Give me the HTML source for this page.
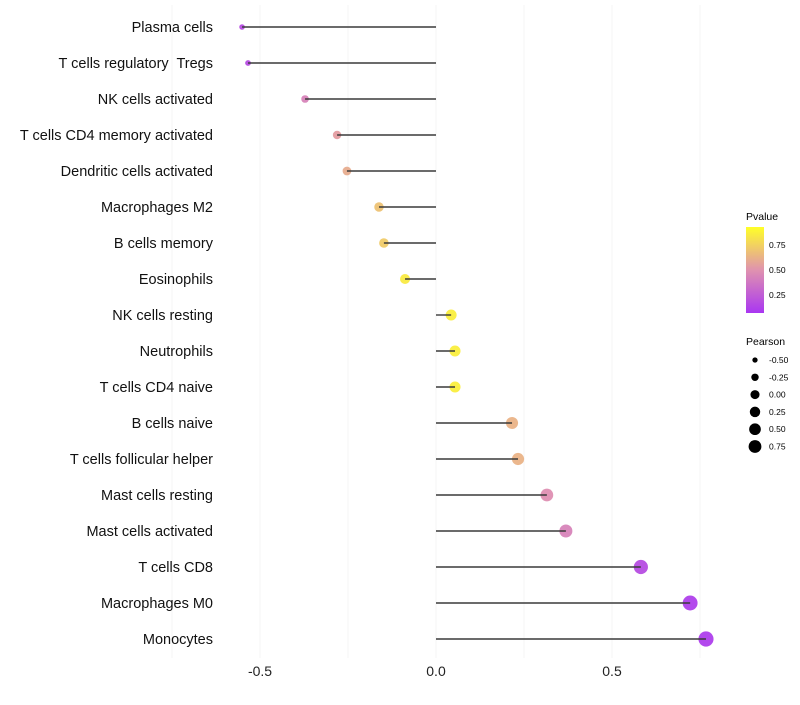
<!DOCTYPE html>
<html><head><meta charset="utf-8"><style>
body{margin:0;background:#fff;font-family:"Liberation Sans",sans-serif;}
svg text{font-family:"Liberation Sans",sans-serif;white-space:pre;}
</style></head><body>
<svg id="chart" width="800" height="700" xmlns="http://www.w3.org/2000/svg">
<defs><linearGradient id="pg" x1="0" y1="1" x2="0" y2="0">
<stop offset="0" stop-color="#a020f0"/><stop offset="0.5" stop-color="#dc86a6"/><stop offset="1" stop-color="#ffff10"/></linearGradient></defs>
<g id="grid"></g><g id="points"></g><g id="stems"></g><g id="labels"></g><g id="xticks"></g>
<g>
<text x="746" y="220" font-size="10.5">Pvalue</text>
<rect x="746" y="227" width="18" height="86" fill="url(#pg)" opacity="0.9"/>
<text x="769" y="248" font-size="8.5">0.75</text>
<text x="769" y="273" font-size="8.5">0.50</text>
<text x="769" y="298" font-size="8.5">0.25</text>
</g>
<g id="sizeLegend">
<text x="746" y="345" font-size="10.5">Pearson</text>
</g>
</svg>
<script>
const cells=["Plasma cells","T cells regulatory  Tregs","NK cells activated","T cells CD4 memory activated","Dendritic cells activated","Macrophages M2","B cells memory","Eosinophils","NK cells resting","Neutrophils","T cells CD4 naive","B cells naive","T cells follicular helper","Mast cells resting","Mast cells activated","T cells CD8","Macrophages M0","Monocytes"];
const pearson=[-0.551,-0.534,-0.372,-0.281,-0.253,-0.162,-0.148,-0.088,0.043,0.054,0.054,0.216,0.233,0.315,0.369,0.582,0.722,0.767];
const pvalue=[0.12,0.12,0.42,0.55,0.62,0.72,0.76,0.9,0.92,0.92,0.92,0.65,0.65,0.48,0.42,0.12,0.05,0.04];
const xTicks=[-0.5,0,0.5];
const xTickLabels=["-0.5","0.0","0.5"];
const legendVals=[-0.5,-0.25,0,0.25,0.5,0.75];
const NS="http://www.w3.org/2000/svg";
const X=v=>436+v*352, Y=i=>27+i*36;
const R=p=>1.1*Math.sqrt(Math.max(3,23.5+31*p));
function lerp(a,b,t){return a.map((v,i)=>Math.round(v+(b[i]-v)*t));}
function col(p){const lo=[160,32,240],mid=[220,134,166],hi=[255,255,16];
 const c=p<0.5?lerp(lo,mid,p/0.5):lerp(mid,hi,(p-0.5)/0.5);return `rgb(${c.join(",")})`;}
function mk(tag,attrs,parent){const e=document.createElementNS(NS,tag);for(const k in attrs)e.setAttribute(k,attrs[k]);document.getElementById(parent).appendChild(e);return e;}
[-0.75,-0.5,-0.25,0,0.25,0.5,0.75].forEach(v=>{const l=mk("line",{x1:X(v),x2:X(v),y1:5,y2:658,stroke:"#f4f4f4","stroke-width":1},"grid");

});
xTicks.forEach((v,i)=>{const t=mk("text",{x:X(v),y:676,"font-size":14,"text-anchor":"middle",fill:"#222"},"xticks");t.textContent=xTickLabels[i];

});
cells.forEach((c,i)=>{
 const t=mk("text",{x:213,y:Y(i)+5,"font-size":14.5,"text-anchor":"end",fill:"#111"},"labels");t.textContent=c;
 
 
 const d=mk("circle",{cx:X(pearson[i]),cy:Y(i),r:R(pearson[i]),fill:col(pvalue[i]),"fill-opacity":0.85},"points");
 
 
 const s=mk("line",{x1:X(0),x2:X(pearson[i]),y1:Y(i),y2:Y(i),stroke:"#3a3a3a","stroke-width":1.4},"stems");
 
 
});
legendVals.forEach((v,i)=>{const y=360+i*17.3;
 const c=mk("circle",{cx:755,cy:y,r:R(v)*0.85,fill:"#000"},"sizeLegend");
 
 
 const t=mk("text",{x:769,y:y+3,"font-size":8.5},"sizeLegend");t.textContent=v.toFixed(2);
 
 });
</script>
</body></html>
